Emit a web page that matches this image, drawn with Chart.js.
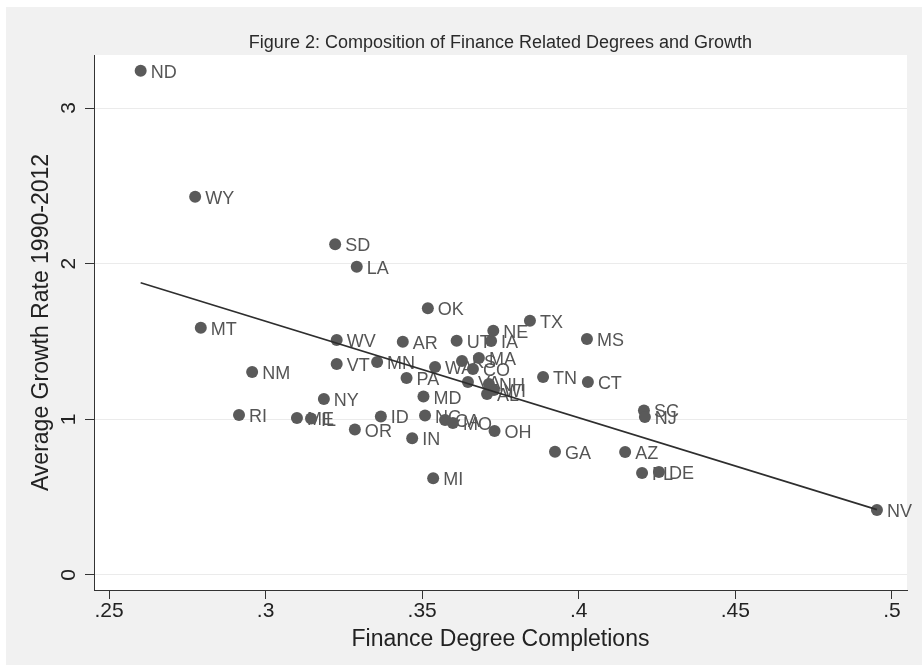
<!DOCTYPE html>
<html>
<head>
<meta charset="utf-8">
<title>Finance Degrees and Growth</title>
<script src="https://cdn.jsdelivr.net/npm/chart.js@4.4.1/dist/chart.umd.min.js"></script>
<style>
  html, body { margin: 0; padding: 0; background: #fff; }
  canvas { display: block; }
</style>
</head>
<body>
<canvas id="growthChart" width="922" height="667"></canvas>
<script>
const states = ['ND', 'WY', 'SD', 'LA', 'OK', 'TX', 'MT', 'WV', 'AR', 'UT', 'IA', 'NE', 'MS', 'MN', 'VT', 'NM',
    'WA', 'KS', 'MA', 'CO', 'PA', 'TN', 'CT', 'VA', 'NH', 'WI', 'AL', 'NY', 'MD', 'RI', 'ME', 'IL', 'ID', 'NC',
    'CA', 'MO', 'OR', 'IN', 'OH', 'SC', 'NJ', 'GA', 'AZ', 'FL', 'DE', 'MI', 'NV'];
const finDegree = [0.2601, 0.2775, 0.3222, 0.3291, 0.3518, 0.3844, 0.2793, 0.3227, 0.3438, 0.3610, 0.3720, 0.3727,
    0.4026, 0.3356, 0.3227, 0.2957, 0.3541, 0.3627, 0.3681, 0.3662, 0.3450, 0.3886, 0.4029, 0.3646, 0.3713, 0.3729,
    0.3707, 0.3186, 0.3504, 0.2915, 0.3100, 0.3145, 0.3368, 0.3509, 0.3573, 0.3598, 0.3285, 0.3468, 0.3731, 0.4208,
    0.4211, 0.3924, 0.4148, 0.4202, 0.4256, 0.3535, 0.4952];
const growth = [3.239, 2.430, 2.124, 1.980, 1.713, 1.633, 1.588, 1.509, 1.498, 1.505, 1.503, 1.569,
    1.516, 1.368, 1.355, 1.304, 1.336, 1.374, 1.394, 1.323, 1.265, 1.272, 1.240, 1.240, 1.227, 1.188,
    1.162, 1.130, 1.146, 1.028, 1.008, 1.005, 1.018, 1.024, 0.996, 0.976, 0.934, 0.878, 0.925, 1.057,
    1.015, 0.792, 0.790, 0.655, 0.662, 0.621, 0.417];

// fitted line end points
const fitX = [0.2601, 0.4952];
const fitY = [1.877, 0.420];

const xTicks = [0.25, 0.3, 0.35, 0.4, 0.45, 0.5];
const yTicks = [0, 1, 2, 3];

const FONT = "'Liberation Sans', Arial, Helvetica, sans-serif";

// grey frame + white plot region
const backgroundPlugin = {
    id: 'background',
    beforeDraw(chart) {
        const { ctx, chartArea } = chart;
        ctx.save();
        ctx.fillStyle = '#ffffff';
        ctx.fillRect(0, 0, chart.width, chart.height);
        ctx.fillStyle = '#f1f1f1';
        ctx.fillRect(6, 7, chart.width - 6, chart.height - 9);
        ctx.fillStyle = '#ffffff';
        ctx.fillRect(chartArea.left, chartArea.top, chartArea.right - chartArea.left, chartArea.bottom - chartArea.top);
        ctx.restore();
    }
};

// state abbreviations next to each marker
const stateLabels = {
    id: 'stateLabels',
    beforeDatasetsDraw(chart) {
        const { ctx } = chart;
        const meta = chart.getDatasetMeta(1);
        ctx.save();
        ctx.font = '18px ' + FONT;
        ctx.fillStyle = '#555555';
        ctx.textAlign = 'left';
        ctx.textBaseline = 'middle';
        meta.data.forEach((pt, i) => {
            ctx.fillText(states[i], pt.x + 10, pt.y + 2);
        });
        ctx.restore();
    }
};

function fmtTick(v) {
    return String(+v.toFixed(2)).replace(/^0\./, '.');
}

const ctx = document.getElementById('growthChart').getContext('2d');
new Chart(ctx, {
    type: 'scatter',
    data: {
        datasets: [
            {
                type: 'line',
                label: 'Fitted values',
                data: fitX.map((x, i) => ({ x: x, y: fitY[i] })),
                borderColor: '#2e2e2e',
                borderWidth: 1.6,
                pointRadius: 0,
                fill: false
            },
            {
                label: 'Average Growth Rate 1990-2012',
                data: finDegree.map((x, i) => ({ x: x, y: growth[i] })),
                backgroundColor: '#5a5a5a',
                borderWidth: 0,
                pointRadius: 6,
                pointHoverRadius: 6
            }
        ]
    },
    options: {
        responsive: false,
        animation: false,
        events: [],
        layout: {
            padding: { left: 0, right: 15, top: 0, bottom: 0 }
        },
        plugins: {
            legend: { display: false },
            tooltip: { enabled: false },
            title: {
                display: true,
                fullSize: false,
                text: 'Figure 2: Composition of Finance Related Degrees and Growth',
                color: '#2a2a2a',
                font: { family: FONT, size: 18, weight: 'normal' },
                padding: { top: 32, bottom: 1.4 }
            }
        },
        scales: {
            x: {
                type: 'linear',
                min: 0.2452,
                max: 0.5048,
                afterBuildTicks: scale => { scale.ticks = xTicks.map(v => ({ value: v })); },
                afterFit: scale => { scale.height = 77; },
                border: { display: true, color: '#333333', width: 1 },
                grid: { drawOnChartArea: false, drawTicks: true, tickLength: 9, tickColor: '#333333' },
                ticks: {
                    color: '#222222',
                    font: { family: FONT, size: 21 },
                    padding: 0,
                    maxRotation: 0,
                    callback: v => fmtTick(v)
                },
                title: {
                    display: true,
                    text: 'Finance Degree Completions',
                    color: '#222222',
                    font: { family: FONT, size: 23 },
                    padding: { top: 0, bottom: 14 }
                }
            },
            y: {
                type: 'linear',
                min: -0.0964,
                max: 3.3405,
                afterBuildTicks: scale => { scale.ticks = yTicks.map(v => ({ value: v })); },
                afterFit: scale => { scale.width = 94; },
                border: { display: true, color: '#333333', width: 1 },
                grid: { color: '#ebebeb', lineWidth: 1, drawTicks: true, tickLength: 9, tickColor: '#333333' },
                ticks: {
                    color: '#222222',
                    font: { family: FONT, size: 21 },
                    padding: 10,
                    minRotation: 90,
                    maxRotation: 90,
                    crossAlign: 'center',
                    callback: v => fmtTick(v)
                },
                title: {
                    display: true,
                    text: 'Average Growth Rate 1990-2012',
                    color: '#222222',
                    font: { family: FONT, size: 23 },
                    padding: { top: 28, bottom: 0 }
                }
            }
        }
    },
    plugins: [backgroundPlugin, stateLabels]
});
</script>
</body>
</html>
